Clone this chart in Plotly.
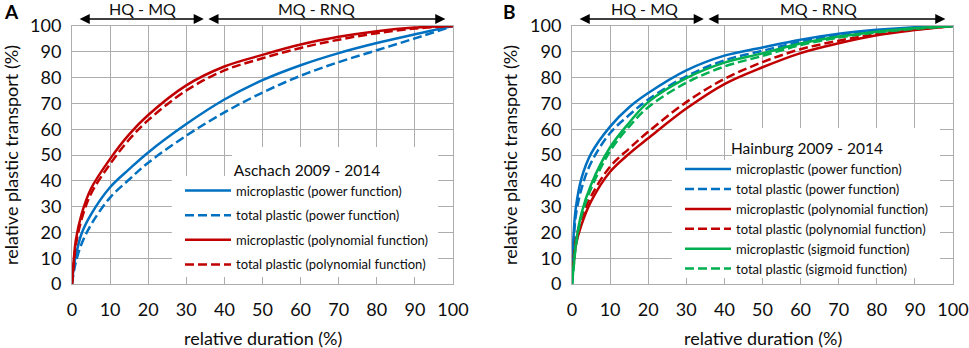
import plotly.graph_objects as go
from plotly.subplots import make_subplots

# ---------------- data ----------------
x_duration = [0, 0.5, 1, 2.5, 5, 10, 15, 20, 30, 40, 50, 60, 70, 80, 90, 100]

# Panel A: Aschach 2009 - 2014
a_micro_power = [0, 7, 11, 19.5, 27, 37.5, 44.5, 51, 62, 71.5, 79, 84.8, 89.5, 93.4, 96.8, 100]
a_total_power = [0, 5, 8.5, 15.5, 23, 33.5, 40.5, 47, 57.5, 66.5, 74.2, 80.7, 86, 90.6, 95.2, 100]
a_micro_poly = [0, 10, 17, 27, 37, 48.5, 58, 65.5, 77, 84.3, 88.8, 92.8, 95.8, 98, 99.4, 100]
a_total_poly = [0, 8.5, 15, 25, 35, 46.5, 56, 63.5, 75, 82.8, 87.5, 91.5, 94.7, 97.2, 99, 100]

# Panel B: Hainburg 2009 - 2014
b_micro_power = [0, 21, 29.5, 41, 50.5, 61, 68.5, 74, 82.8, 88.5, 91.7, 94.7, 97, 98.5, 99.5, 100]
b_total_power = [0, 17.5, 26.5, 37, 47, 58.5, 65.5, 71.5, 80.5, 86.7, 90.4, 93.9, 96.5, 98.1, 99.2, 100]
b_micro_poly = [4, 9, 15, 23, 32, 43.5, 50.5, 56.5, 68, 77.5, 84, 89.5, 93.3, 96.4, 98.4, 100]
b_total_poly = [5, 11, 17, 25.5, 34, 45.5, 52.5, 59, 70.5, 79.5, 86, 91, 94.3, 96.9, 98.6, 100]
b_micro_sigmoid = [0, 8, 15.5, 27.5, 38.5, 53, 62.5, 70.5, 79.8, 85.8, 89.4, 93.2, 95.9, 97.8, 99.1, 100]
b_total_sigmoid = [0, 7.5, 14.5, 26.5, 37, 51.5, 61, 68.5, 78, 84.3, 88.4, 92.6, 95.5, 97.5, 98.9, 100]

tick_vals = [0, 10, 20, 30, 40, 50, 60, 70, 80, 90, 100]

# ---------------- style ----------------
BLUE = "#0070C0"
RED = "#C00000"
GREEN = "#00B050"
GRID = "#ADADAD"
FONT = "Lato"
TXT = "#0d0d0d"
DASH = "9px,4px"
LW = 2.5

fig = make_subplots(rows=1, cols=2)

series_a = [
    ("microplastic (power function)", a_micro_power, BLUE, "solid"),
    ("total plastic (power function)", a_total_power, BLUE, DASH),
    ("microplastic (polynomial function)", a_micro_poly, RED, "solid"),
    ("total plastic (polynomial function)", a_total_poly, RED, DASH),
]
series_b = [
    ("microplastic (power function)", b_micro_power, BLUE, "solid"),
    ("total plastic (power function)", b_total_power, BLUE, DASH),
    ("microplastic (polynomial function)", b_micro_poly, RED, "solid"),
    ("total plastic (polynomial function)", b_total_poly, RED, DASH),
    ("microplastic (sigmoid function)", b_micro_sigmoid, GREEN, "solid"),
    ("total plastic (sigmoid function)", b_total_sigmoid, GREEN, DASH),
]

for i, (name, ys, col, dash) in enumerate(series_a):
    fig.add_trace(go.Scatter(x=x_duration, y=ys, name=name, mode="lines",
                             line=dict(color=col, width=LW, dash=dash, shape="spline", smoothing=1),
                             legend="legend", legendgroup=f"a{i}"), row=1, col=1)
for i, (name, ys, col, dash) in enumerate(series_b):
    fig.add_trace(go.Scatter(x=x_duration, y=ys, name=name, mode="lines",
                             line=dict(color=col, width=LW, dash=dash, shape="spline", smoothing=1),
                             legend="legend2", legendgroup=f"b{i}"), row=1, col=2)

W, H = 969, 348
def px_x(p):
    return p / W
def px_y(p):
    return 1 - p / H

axis_common = dict(range=[0, 100], tickvals=tick_vals, showgrid=True, gridcolor=GRID, gridwidth=1,
                   zeroline=False, showline=True, linecolor=GRID, linewidth=1, mirror=True,
                   automargin=False, ticks="",
                   tickfont=dict(family=FONT, size=18, color=TXT))

fig.update_xaxes(**axis_common, ticklabelstandoff=9)
fig.update_yaxes(**axis_common, ticklabelstandoff=6)
fig.update_layout(
    xaxis=dict(domain=[px_x(72), px_x(453)]),
    xaxis2=dict(domain=[px_x(572), px_x(953)]),
    yaxis=dict(domain=[px_y(284), px_y(26)]),
    yaxis2=dict(domain=[px_y(284), px_y(26)]),
)

# white boxes behind legends (cover gridlines)
boxes = [
    ("x", "y", 42.0, 96.1, 41.0, 53.1),
    ("x", "y", 26.2, 96.1, 2.7, 41.9),
    ("x2", "y2", 42.0, 96.6, 47.0, 60.5),
    ("x2", "y2", 26.2, 96.6, 2.3, 48.1),
]
for xr, yr, x0, x1, y0, y1 in boxes:
    fig.add_shape(type="rect", xref=xr, yref=yr, x0=x0, x1=x1, y0=y0, y1=y1,
                  fillcolor="white", line=dict(width=0), layer="between")

legend_common = dict(bgcolor="rgba(0,0,0,0)", borderwidth=0, itemwidth=46,
                     font=dict(family=FONT, size=13, color=TXT),
                     xanchor="left", yanchor="top", orientation="v")
fig.update_layout(
    legend=dict(**legend_common, x=px_x(180), y=px_y(155.5), tracegroupgap=4.7,
                title=dict(text="Aschach 2009 - 2014", side="top center",
                           font=dict(family=FONT, size=15.5, color=TXT))),
    legend2=dict(**legend_common, x=px_x(680), y=px_y(134), tracegroupgap=0,
                 title=dict(text="Hainburg 2009 - 2014", side="top center",
                            font=dict(family=FONT, size=15.5, color=TXT))),
)

ann = []
arrow_y = px_y(19)
text_y = px_y(8.5)
for xr, hq_txt_x, rnq_txt_x in (("x", 18.6, 64.3), ("x2", 18.9, 64.8)):
    for x_start, x_end in ((1.6, 34.6), (35.4, 98.0)):
        ann.append(dict(xref=xr, yref="paper", x=x_end, y=arrow_y, axref=xr, ax=x_start,
                        ayref="pixel", ay=0, text="", showarrow=True, arrowside="end+start",
                        arrowhead=2, startarrowhead=2, arrowsize=1.35, startarrowsize=1.35,
                        arrowwidth=1.5, arrowcolor="black", standoff=0, startstandoff=0))
    ann.append(dict(xref=xr, yref="paper", x=hq_txt_x, y=text_y, text="HQ - MQ", showarrow=False,
                    font=dict(family=FONT, size=16, color=TXT), xanchor="center", yanchor="middle"))
    ann.append(dict(xref=xr, yref="paper", x=rnq_txt_x, y=text_y, text="MQ - RNQ", showarrow=False,
                    font=dict(family=FONT, size=16, color=TXT), xanchor="center", yanchor="middle"))

# panel letters
ann.append(dict(xref="paper", yref="paper", x=px_x(11), y=px_y(12), text="<b>A</b>", showarrow=False,
                font=dict(family=FONT, size=19, color="black"), xanchor="center", yanchor="middle"))
ann.append(dict(xref="paper", yref="paper", x=px_x(509), y=px_y(12), text="<b>B</b>", showarrow=False,
                font=dict(family=FONT, size=19, color="black"), xanchor="center", yanchor="middle"))

# axis titles
for cx in (262.5, 762.5):
    ann.append(dict(xref="paper", yref="paper", x=px_x(cx), y=px_y(338), text="relative duration (%)",
                    showarrow=False, font=dict(family=FONT, size=18, color=TXT),
                    xanchor="center", yanchor="middle"))
for cx in (11, 510):
    ann.append(dict(xref="paper", yref="paper", x=px_x(cx), y=px_y(155),
                    text="relative plastic transport (%)", textangle=-90,
                    showarrow=False, font=dict(family=FONT, size=18, color=TXT),
                    xanchor="center", yanchor="middle"))

fig.update_layout(annotations=ann, width=W, height=H, margin=dict(l=0, r=0, t=0, b=0),
                  paper_bgcolor="white", plot_bgcolor="white", showlegend=True,
                  font=dict(family=FONT, color=TXT))

# remove the default 8px page margin so the figure fills the window exactly
fig.write_html("out.html", config={"displayModeBar": False},
               post_script="document.body.style.margin='0px';")
